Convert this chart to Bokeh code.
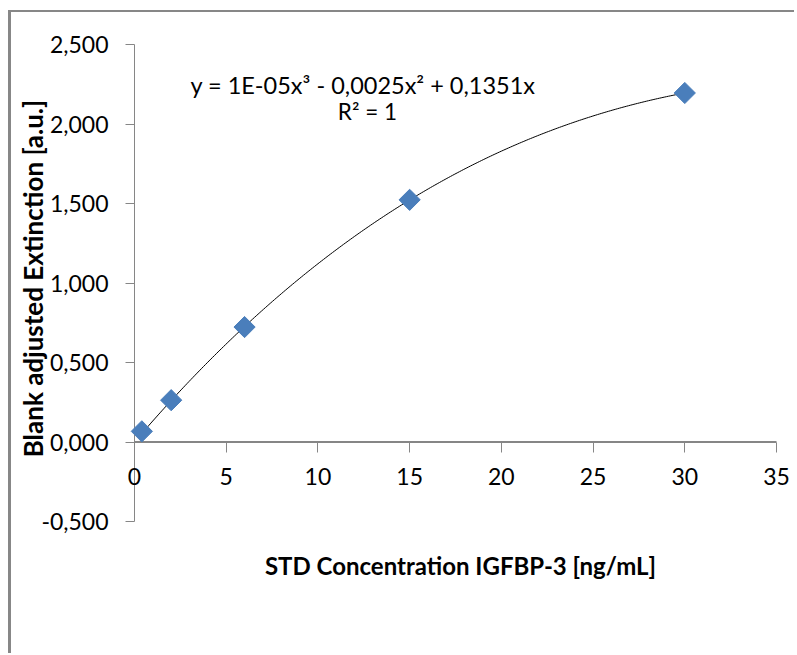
import numpy as np
from bokeh.plotting import figure
from bokeh.models import Range1d, FixedTicker, Label
from bokeh.embed import file_html
from bokeh.resources import INLINE

# ---- data ----
conc = [0.4, 2.0, 6.0, 15.0, 30.0]
extinction = [0.067, 0.263, 0.723, 1.523, 2.195]
x_ticks = [0, 5, 10, 15, 20, 25, 30, 35]
y_ticks = [-0.5, 0.0, 0.5, 1.0, 1.5, 2.0, 2.5]
y_tick_labels = ["-0,500", "0,000", "0,500", "1,000", "1,500", "2,000", "2,500"]
equation = "y = 1E-05x³ - 0,0025x² + 0,1351x"
r2_text = "R² = 1"
x_title = "STD Concentration IGFBP-3 [ng/mL]"
y_title = "Blank adjusted Extinction [a.u.]"

FONT = "Lato"
AX = "#868686"

# ---- layout (pixels) ----
W, H = 786, 643
X0_PX, X1_PX = 123, 765      # canvas x of first / last x tick
YT_PX, YB_PX = 32, 509       # canvas y of top / bottom y tick
xs_per_px = (x_ticks[-1] - x_ticks[0]) / (X1_PX - X0_PX)
ys_per_px = (y_ticks[-1] - y_ticks[0]) / (YB_PX - YT_PX)
x_range = Range1d(x_ticks[0] - X0_PX * xs_per_px, x_ticks[-1] + (W - X1_PX) * xs_per_px)
y_range = Range1d(y_ticks[0] - (H - YB_PX) * ys_per_px, y_ticks[-1] + YT_PX * ys_per_px)

p = figure(width=W, height=H, output_backend="svg", toolbar_location=None,
           x_range=x_range, y_range=y_range,
           min_border_left=0, min_border_right=0, min_border_top=0,
           min_border_bottom=0)
p.styles = {"border-top": "2px solid #878787", "border-left": "3px solid #878787",
            "margin-top": "10px", "margin-left": "8px"}
p.outline_line_color = None
p.grid.visible = False
p.background_fill_color = "white"
p.border_fill_color = "white"

# x axis crossing at y = 0
xa = p.xaxis[0]
xa.fixed_location = 0
xa.ticker = FixedTicker(ticks=x_ticks)
xa.axis_line_color = None
xa.major_tick_line_color = AX
xa.major_tick_in = 0
xa.major_tick_out = 10
xa.minor_tick_line_color = None
xa.major_label_text_font = FONT
xa.major_label_text_font_size = "23px"
xa.major_label_text_color = "#000000"
xa.major_label_standoff = 16

# y axis at x = 0
ya = p.yaxis[0]
ya.fixed_location = 0
ya.ticker = FixedTicker(ticks=y_ticks)
ya.major_label_overrides = {t: s for t, s in zip(y_ticks, y_tick_labels)}
ya.axis_line_color = None
ya.major_tick_line_color = AX
ya.major_tick_in = 0
ya.major_tick_out = 9
ya.minor_tick_line_color = None
ya.major_label_text_font = FONT
ya.major_label_text_font_size = "23px"
ya.major_label_text_color = "#000000"
ya.major_label_standoff = 17

# axis lines spanning the tick extents
p.line([x_ticks[0], x_ticks[-1]], [0, 0], line_color=AX, line_width=2)
p.line([0, 0], [y_ticks[0], y_ticks[-1]], line_color=AX, line_width=1)

# polynomial trendline (3rd order, intercept 0) fitted to the data
xs = np.array(conc)
ys = np.array(extinction)
A = np.vstack([xs**3, xs**2, xs]).T
coef, *_ = np.linalg.lstsq(A, ys, rcond=None)
xf = np.linspace(xs.min(), xs.max(), 300)
yf = coef[0] * xf**3 + coef[1] * xf**2 + coef[2] * xf
p.line(xf, yf, line_color="#000000", line_width=1)

p.scatter(conc, extinction, marker="square", size=15, angle=np.pi / 4,
          fill_color="#4a7ebb", line_color="#4a7ebb")

# equation labels
p.add_layout(Label(x=12.46, y=2.248, text=equation, text_align="center",
                   text_baseline="middle", text_font=FONT,
                   text_font_size="23.5px", text_color="#000000"))
p.add_layout(Label(x=12.70, y=2.079, text=r2_text, text_align="center",
                   text_baseline="middle", text_font=FONT,
                   text_font_size="22.5px", text_color="#000000"))

# axis titles
p.add_layout(Label(x=17.77, y=-0.777, text=x_title, text_align="center",
                   text_baseline="middle", text_font=FONT,
                   text_font_size="24px", text_font_style="bold",
                   text_color="#000000"))
p.add_layout(Label(x=-5.56, y=1.028, text=y_title, text_align="center",
                   text_baseline="middle", angle=np.pi / 2,
                   text_font=FONT, text_font_size="26px",
                   text_font_style="bold", text_color="#000000"))

open("out.html", "w").write(file_html(p, INLINE))
